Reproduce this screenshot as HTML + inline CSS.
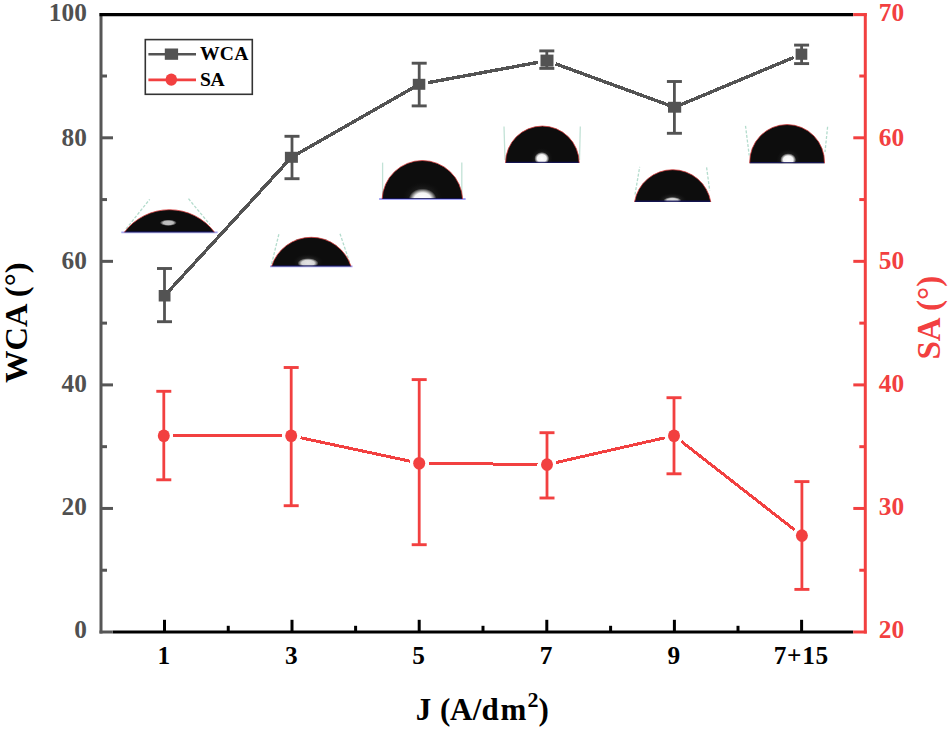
<!DOCTYPE html><html><head><meta charset="utf-8"><style>html,body{margin:0;padding:0;background:#fff;width:950px;height:730px;overflow:hidden}svg{display:block}text,tspan{font-family:"Liberation Serif",serif;font-weight:bold}</style></head><body><svg width="950" height="730" viewBox="0 0 950 730"><defs><radialGradient id="hl"><stop offset="0" stop-color="#fff"/><stop offset="0.6" stop-color="#f4f4f4"/><stop offset="1" stop-color="#fff" stop-opacity="0"/></radialGradient><radialGradient id="glow"><stop offset="0" stop-color="#9a9a9a" stop-opacity="0.8"/><stop offset="1" stop-color="#222" stop-opacity="0"/></radialGradient></defs><clipPath id="c1"><path d="M124.3,232.3 A56.40,56.40 0 0 1 214.6,232.3 Z"/></clipPath><line x1="126" y1="229" x2="149.7" y2="199.3" stroke="#b4dccd" stroke-width="1.3" stroke-dasharray="3 1.6"/><line x1="188.5" y1="198.7" x2="210" y2="224.7" stroke="#b4dccd" stroke-width="1.3" stroke-dasharray="3 1.6"/><line x1="121.3" y1="232.3" x2="217.6" y2="232.3" stroke="#a9a9f5" stroke-width="1.8"/><path d="M124.3,232.3 A56.40,56.40 0 0 1 214.6,232.3 Z" fill="#0d0d0d"/><g clip-path="url(#c1)"><ellipse cx="168.3" cy="222.8" rx="8.5" ry="3.2" fill="url(#hl)" opacity="0.75"/><line x1="124.3" y1="232.0" x2="214.6" y2="232.0" stroke="#16165c" stroke-width="1.6" opacity="0.85"/></g><path d="M124.3,232.3 A56.40,56.40 0 0 1 214.6,232.3" fill="none" stroke="#d83838" stroke-width="1" stroke-opacity="0.75"/><clipPath id="c2"><path d="M271.6,266.3 A41.67,41.67 0 0 1 351.0,266.3 Z"/></clipPath><line x1="271.6" y1="264" x2="279" y2="233.7" stroke="#b4dccd" stroke-width="1.3" stroke-dasharray="3 1.6"/><line x1="340" y1="233.7" x2="349.5" y2="262" stroke="#b4dccd" stroke-width="1.3" stroke-dasharray="3 1.6"/><line x1="270.1" y1="266.3" x2="352.5" y2="266.3" stroke="#9a9af2" stroke-width="1.8"/><path d="M271.6,266.3 A41.67,41.67 0 0 1 351.0,266.3 Z" fill="#0d0d0d"/><g clip-path="url(#c2)"><ellipse cx="308" cy="262" rx="15" ry="8" fill="url(#glow)" opacity="0.7"/><ellipse cx="308" cy="263.2" rx="10.5" ry="5" fill="url(#hl)" opacity="0.85"/><line x1="271.6" y1="266.0" x2="351.0" y2="266.0" stroke="#16165c" stroke-width="1.6" opacity="0.85"/></g><path d="M271.6,266.3 A41.67,41.67 0 0 1 351.0,266.3" fill="none" stroke="#d83838" stroke-width="1" stroke-opacity="0.75"/><clipPath id="c3"><path d="M382.1,199.0 A40.29,40.29 0 0 1 462.6,199.0 Z"/></clipPath><line x1="382.6" y1="162.6" x2="382.6" y2="197" stroke="#c2e2d6" stroke-width="1.3" stroke-dasharray="40 0"/><line x1="461.8" y1="162.6" x2="461.8" y2="197" stroke="#c2e2d6" stroke-width="1.3" stroke-dasharray="40 0"/><line x1="379.1" y1="199.0" x2="465.6" y2="199.0" stroke="#a5a5f5" stroke-width="1.8"/><path d="M382.1,199.0 A40.29,40.29 0 0 1 462.6,199.0 Z" fill="#0d0d0d"/><g clip-path="url(#c3)"><ellipse cx="422.6" cy="199" rx="20" ry="17" fill="url(#glow)" opacity="0.7"/><ellipse cx="422.6" cy="199.5" rx="14" ry="11" fill="url(#hl)" opacity="1.0"/><line x1="382.1" y1="198.7" x2="462.6" y2="198.7" stroke="#16165c" stroke-width="1.6" opacity="0.85"/></g><path d="M382.1,199.0 A40.29,40.29 0 0 1 462.6,199.0" fill="none" stroke="#d83838" stroke-width="1" stroke-opacity="0.75"/><clipPath id="c4"><path d="M505.5,162.9 A36.85,36.85 0 0 1 579.2,162.9 Z"/></clipPath><line x1="504" y1="126.6" x2="505" y2="160" stroke="#c2e2d6" stroke-width="1.3" stroke-dasharray="40 0"/><line x1="580.3" y1="126.6" x2="579.5" y2="160" stroke="#c2e2d6" stroke-width="1.3" stroke-dasharray="40 0"/><path d="M505.5,162.9 A36.85,36.85 0 0 1 579.2,162.9 Z" fill="#0d0d0d"/><g clip-path="url(#c4)"><ellipse cx="541.8" cy="159" rx="11" ry="11" fill="url(#glow)" opacity="0.7"/><ellipse cx="541.8" cy="158.5" rx="7.5" ry="6.5" fill="url(#hl)" opacity="1.0"/><line x1="505.5" y1="162.6" x2="579.2" y2="162.6" stroke="#16165c" stroke-width="1.6" opacity="0.85"/></g><path d="M505.5,162.9 A36.85,36.85 0 0 1 579.2,162.9" fill="none" stroke="#d83838" stroke-width="1" stroke-opacity="0.75"/><clipPath id="c5"><path d="M634.5,201.9 A38.70,38.70 0 0 1 710.8,201.9 Z"/></clipPath><line x1="635" y1="194.7" x2="639.7" y2="166.8" stroke="#b4dccd" stroke-width="1.3" stroke-dasharray="3 1.6"/><line x1="706.6" y1="167.4" x2="709.7" y2="190.5" stroke="#b4dccd" stroke-width="1.3" stroke-dasharray="3 1.6"/><path d="M634.5,201.9 A38.70,38.70 0 0 1 710.8,201.9 Z" fill="#0d0d0d"/><g clip-path="url(#c5)"><ellipse cx="672.4" cy="200" rx="14" ry="7" fill="url(#glow)" opacity="0.7"/><ellipse cx="672.4" cy="200.5" rx="9" ry="3.5" fill="url(#hl)" opacity="0.8"/><line x1="634.5" y1="201.6" x2="710.8" y2="201.6" stroke="#16165c" stroke-width="2.4" opacity="0.85"/></g><path d="M634.5,201.9 A38.70,38.70 0 0 1 710.8,201.9" fill="none" stroke="#d83838" stroke-width="1" stroke-opacity="0.75"/><clipPath id="c6"><path d="M749.7,163.2 A37.42,37.42 0 1 1 824.5,163.2 Z"/></clipPath><line x1="745.5" y1="125.8" x2="749.2" y2="155.3" stroke="#b4dccd" stroke-width="1.3" stroke-dasharray="3 1.6"/><line x1="827.6" y1="126.8" x2="825" y2="152" stroke="#b4dccd" stroke-width="1.3" stroke-dasharray="3 1.6"/><path d="M749.7,163.2 A37.42,37.42 0 1 1 824.5,163.2 Z" fill="#0d0d0d"/><g clip-path="url(#c6)"><ellipse cx="788.2" cy="160" rx="12" ry="11" fill="url(#glow)" opacity="0.7"/><ellipse cx="788.2" cy="159.8" rx="8" ry="6.5" fill="url(#hl)" opacity="1.0"/><line x1="749.7" y1="162.89999999999998" x2="824.5" y2="162.89999999999998" stroke="#16165c" stroke-width="1.6" opacity="0.85"/></g><path d="M749.7,163.2 A37.42,37.42 0 1 1 824.5,163.2" fill="none" stroke="#d83838" stroke-width="1" stroke-opacity="0.75"/><line x1="101" y1="13" x2="101" y2="633.6" stroke="#565656" stroke-width="3"/><line x1="101" y1="570.23" x2="107" y2="570.23" stroke="#565656" stroke-width="3"/><line x1="101" y1="508.45" x2="113" y2="508.45" stroke="#565656" stroke-width="3"/><line x1="101" y1="446.67" x2="107" y2="446.67" stroke="#565656" stroke-width="3"/><line x1="101" y1="384.90" x2="113" y2="384.90" stroke="#565656" stroke-width="3"/><line x1="101" y1="323.12" x2="107" y2="323.12" stroke="#565656" stroke-width="3"/><line x1="101" y1="261.35" x2="113" y2="261.35" stroke="#565656" stroke-width="3"/><line x1="101" y1="199.57" x2="107" y2="199.57" stroke="#565656" stroke-width="3"/><line x1="101" y1="137.80" x2="113" y2="137.80" stroke="#565656" stroke-width="3"/><line x1="101" y1="76.02" x2="107" y2="76.02" stroke="#565656" stroke-width="3"/><line x1="865.3" y1="13" x2="865.3" y2="633.6" stroke="#f24040" stroke-width="3"/><line x1="865.3" y1="570.23" x2="859.3" y2="570.23" stroke="#f24040" stroke-width="3"/><line x1="865.3" y1="508.45" x2="853.3" y2="508.45" stroke="#f24040" stroke-width="3"/><line x1="865.3" y1="446.67" x2="859.3" y2="446.67" stroke="#f24040" stroke-width="3"/><line x1="865.3" y1="384.90" x2="853.3" y2="384.90" stroke="#f24040" stroke-width="3"/><line x1="865.3" y1="323.12" x2="859.3" y2="323.12" stroke="#f24040" stroke-width="3"/><line x1="865.3" y1="261.35" x2="853.3" y2="261.35" stroke="#f24040" stroke-width="3"/><line x1="865.3" y1="199.57" x2="859.3" y2="199.57" stroke="#f24040" stroke-width="3"/><line x1="865.3" y1="137.80" x2="853.3" y2="137.80" stroke="#f24040" stroke-width="3"/><line x1="865.3" y1="76.02" x2="859.3" y2="76.02" stroke="#f24040" stroke-width="3"/><line x1="99.5" y1="14.6" x2="853.2" y2="14.6" stroke="#000" stroke-width="3.1"/><line x1="853.2" y1="14.6" x2="866.8" y2="14.6" stroke="#f24040" stroke-width="3.1"/><line x1="112.8" y1="632" x2="853.2" y2="632" stroke="#000" stroke-width="3"/><line x1="99.5" y1="632" x2="112.8" y2="632" stroke="#565656" stroke-width="3"/><line x1="853.2" y1="632" x2="866.8" y2="632" stroke="#f24040" stroke-width="3"/><line x1="164.5" y1="632" x2="164.5" y2="619.8" stroke="#000" stroke-width="3"/><line x1="228.25" y1="632" x2="228.25" y2="625.8" stroke="#000" stroke-width="3"/><line x1="292.0" y1="632" x2="292.0" y2="619.8" stroke="#000" stroke-width="3"/><line x1="355.6" y1="632" x2="355.6" y2="625.8" stroke="#000" stroke-width="3"/><line x1="419.2" y1="632" x2="419.2" y2="619.8" stroke="#000" stroke-width="3"/><line x1="483.0" y1="632" x2="483.0" y2="625.8" stroke="#000" stroke-width="3"/><line x1="546.8" y1="632" x2="546.8" y2="619.8" stroke="#000" stroke-width="3"/><line x1="610.5999999999999" y1="632" x2="610.5999999999999" y2="625.8" stroke="#000" stroke-width="3"/><line x1="674.4" y1="632" x2="674.4" y2="619.8" stroke="#000" stroke-width="3"/><line x1="738.0" y1="632" x2="738.0" y2="625.8" stroke="#000" stroke-width="3"/><line x1="801.6" y1="632" x2="801.6" y2="619.8" stroke="#000" stroke-width="3"/><text x="86.8" y="21.3" font-size="25.3" fill="#505050" text-anchor="end">100</text><text x="86.8" y="145.9" font-size="25.3" fill="#505050" text-anchor="end">80</text><text x="86.8" y="269.1" font-size="25.3" fill="#505050" text-anchor="end">60</text><text x="86.8" y="392.1" font-size="25.3" fill="#505050" text-anchor="end">40</text><text x="86.8" y="514.5" font-size="25.3" fill="#505050" text-anchor="end">20</text><text x="86.8" y="637.5" font-size="25.3" fill="#505050" text-anchor="end">0</text><text x="878.8" y="21.1" font-size="25.3" fill="#f24040">70</text><text x="878.8" y="145.9" font-size="25.3" fill="#f24040">60</text><text x="878.8" y="269.3" font-size="25.3" fill="#f24040">50</text><text x="878.8" y="392.2" font-size="25.3" fill="#f24040">40</text><text x="878.8" y="514.7" font-size="25.3" fill="#f24040">30</text><text x="878.8" y="637.9" font-size="25.3" fill="#f24040">20</text><text x="163.9" y="663.8" font-size="25.3" fill="#000" text-anchor="middle">1</text><text x="291.4" y="663.8" font-size="25.3" fill="#000" text-anchor="middle">3</text><text x="418.59999999999997" y="663.8" font-size="25.3" fill="#000" text-anchor="middle">5</text><text x="546.1999999999999" y="663.8" font-size="25.3" fill="#000" text-anchor="middle">7</text><text x="673.8" y="663.8" font-size="25.3" fill="#000" text-anchor="middle">9</text><text x="801.3000000000001" y="663.8" font-size="25.3" fill="#000" text-anchor="middle" letter-spacing="0.7">7+15</text><text transform="translate(26.7,322.7) rotate(-90)" font-size="32.5" fill="#000" text-anchor="middle">WCA (°)</text><text transform="translate(940.4,317.6) rotate(-90)" font-size="33" fill="#f24040" text-anchor="middle">SA (°)</text><text y="719.7" font-size="31" fill="#000"><tspan x="415.8">J</tspan><tspan x="440.0">(</tspan><tspan x="449.9">A</tspan><tspan x="472.8">/</tspan><tspan x="481.5">d</tspan><tspan x="500.6">m</tspan><tspan x="538.4">)</tspan></text><text x="527.4" y="707.0" font-size="22" fill="#000">2</text><line x1="164.60" y1="295.70" x2="291.40" y2="157.30" stroke="#535353" stroke-width="3.4" shape-rendering="crispEdges"/><line x1="291.40" y1="157.30" x2="419.05" y2="84.30" stroke="#535353" stroke-width="3.4" shape-rendering="crispEdges"/><line x1="427.90" y1="82.67" x2="538.15" y2="62.33" stroke="#535353" stroke-width="3.4" shape-rendering="crispEdges"/><line x1="555.45" y1="63.79" x2="674.60" y2="107.30" stroke="#535353" stroke-width="3.4" shape-rendering="crispEdges"/><line x1="674.60" y1="107.30" x2="793.61" y2="57.48" stroke="#535353" stroke-width="3.4" shape-rendering="crispEdges"/><line x1="164.5" y1="268.5" x2="164.5" y2="321.7" stroke="#535353" stroke-width="2.8"/><line x1="157.0" y1="268.5" x2="172.0" y2="268.5" stroke="#535353" stroke-width="2.9"/><line x1="157.0" y1="321.7" x2="172.0" y2="321.7" stroke="#535353" stroke-width="2.9"/><rect x="158.7" y="290.0" width="11.8" height="11.5" fill="#535353"/><line x1="292.0" y1="136.3" x2="292.0" y2="178.7" stroke="#535353" stroke-width="2.8"/><line x1="284.5" y1="136.3" x2="299.5" y2="136.3" stroke="#535353" stroke-width="2.9"/><line x1="284.5" y1="178.7" x2="299.5" y2="178.7" stroke="#535353" stroke-width="2.9"/><rect x="284.9" y="151.8" width="13.0" height="11.0" fill="#535353"/><line x1="419.2" y1="63.2" x2="419.2" y2="105.9" stroke="#535353" stroke-width="2.8"/><line x1="411.7" y1="63.2" x2="426.7" y2="63.2" stroke="#535353" stroke-width="2.9"/><line x1="411.7" y1="105.9" x2="426.7" y2="105.9" stroke="#535353" stroke-width="2.9"/><rect x="412.8" y="78.8" width="12.5" height="11.0" fill="#535353"/><line x1="546.8" y1="50.9" x2="546.8" y2="68.4" stroke="#535353" stroke-width="2.8"/><line x1="539.3" y1="50.9" x2="554.3" y2="50.9" stroke="#535353" stroke-width="2.9"/><line x1="539.3" y1="68.4" x2="554.3" y2="68.4" stroke="#535353" stroke-width="2.9"/><rect x="540.5" y="54.6" width="13.0" height="12.0" fill="#535353"/><line x1="674.4" y1="81.5" x2="674.4" y2="133.3" stroke="#535353" stroke-width="2.8"/><line x1="666.9" y1="81.5" x2="681.9" y2="81.5" stroke="#535353" stroke-width="2.9"/><line x1="666.9" y1="133.3" x2="681.9" y2="133.3" stroke="#535353" stroke-width="2.9"/><rect x="668.0" y="101.8" width="13.2" height="10.9" fill="#535353"/><line x1="801.6" y1="45.1" x2="801.6" y2="63.6" stroke="#535353" stroke-width="2.8"/><line x1="794.1" y1="45.1" x2="809.1" y2="45.1" stroke="#535353" stroke-width="2.9"/><line x1="794.1" y1="63.6" x2="809.1" y2="63.6" stroke="#535353" stroke-width="2.9"/><rect x="795.6" y="48.6" width="11.7" height="11.2" fill="#535353"/><line x1="173.30" y1="435.70" x2="281.70" y2="435.70" stroke="#f24040" stroke-width="3.0" shape-rendering="crispEdges"/><line x1="300.49" y1="437.70" x2="409.91" y2="461.20" stroke="#f24040" stroke-width="3.0" shape-rendering="crispEdges"/><line x1="428.70" y1="463.30" x2="537.50" y2="464.50" stroke="#f24040" stroke-width="3.0" shape-rendering="crispEdges"/><line x1="556.26" y1="462.49" x2="664.74" y2="437.81" stroke="#f24040" stroke-width="3.0" shape-rendering="crispEdges"/><line x1="681.49" y1="441.55" x2="794.41" y2="529.75" stroke="#f24040" stroke-width="3.0" shape-rendering="crispEdges"/><line x1="163.8" y1="391.3" x2="163.8" y2="479.8" stroke="#f24040" stroke-width="2.8"/><line x1="156.3" y1="391.3" x2="171.3" y2="391.3" stroke="#f24040" stroke-width="2.9"/><line x1="156.3" y1="479.8" x2="171.3" y2="479.8" stroke="#f24040" stroke-width="2.9"/><ellipse cx="163.8" cy="435.7" rx="6" ry="6.3" fill="#f24040"/><line x1="291.2" y1="367.5" x2="291.2" y2="505.7" stroke="#f24040" stroke-width="2.8"/><line x1="283.7" y1="367.5" x2="298.7" y2="367.5" stroke="#f24040" stroke-width="2.9"/><line x1="283.7" y1="505.7" x2="298.7" y2="505.7" stroke="#f24040" stroke-width="2.9"/><ellipse cx="291.2" cy="435.7" rx="6" ry="6.3" fill="#f24040"/><line x1="419.2" y1="379.6" x2="419.2" y2="544.7" stroke="#f24040" stroke-width="2.8"/><line x1="411.7" y1="379.6" x2="426.7" y2="379.6" stroke="#f24040" stroke-width="2.9"/><line x1="411.7" y1="544.7" x2="426.7" y2="544.7" stroke="#f24040" stroke-width="2.9"/><ellipse cx="419.2" cy="463.2" rx="6" ry="6.3" fill="#f24040"/><line x1="547.0" y1="432.7" x2="547.0" y2="498.0" stroke="#f24040" stroke-width="2.8"/><line x1="539.5" y1="432.7" x2="554.5" y2="432.7" stroke="#f24040" stroke-width="2.9"/><line x1="539.5" y1="498.0" x2="554.5" y2="498.0" stroke="#f24040" stroke-width="2.9"/><ellipse cx="547.0" cy="464.6" rx="6" ry="6.3" fill="#f24040"/><line x1="674.0" y1="397.7" x2="674.0" y2="473.8" stroke="#f24040" stroke-width="2.8"/><line x1="666.5" y1="397.7" x2="681.5" y2="397.7" stroke="#f24040" stroke-width="2.9"/><line x1="666.5" y1="473.8" x2="681.5" y2="473.8" stroke="#f24040" stroke-width="2.9"/><ellipse cx="674.0" cy="435.7" rx="6" ry="6.3" fill="#f24040"/><line x1="801.9" y1="481.6" x2="801.9" y2="589.4" stroke="#f24040" stroke-width="2.8"/><line x1="794.4" y1="481.6" x2="809.4" y2="481.6" stroke="#f24040" stroke-width="2.9"/><line x1="794.4" y1="589.4" x2="809.4" y2="589.4" stroke="#f24040" stroke-width="2.9"/><ellipse cx="801.9" cy="535.6" rx="6" ry="6.3" fill="#f24040"/><rect x="145.3" y="39.6" width="107" height="54.7" fill="#fff" stroke="#333" stroke-width="1.6"/><line x1="148.4" y1="54.2" x2="196" y2="54.2" stroke="#535353" stroke-width="2.6"/><rect x="164.8" y="48.5" width="13.3" height="11.3" fill="#535353"/><line x1="148.4" y1="79.9" x2="196" y2="79.9" stroke="#f24040" stroke-width="2.6"/><ellipse cx="171.3" cy="79.6" rx="5.8" ry="6.2" fill="#f24040"/><text x="200" y="59.8" font-size="19.6" fill="#000" letter-spacing="0.2">WCA</text><text x="200" y="86.3" font-size="19.6" fill="#000" letter-spacing="-0.5">SA</text></svg></body></html>
